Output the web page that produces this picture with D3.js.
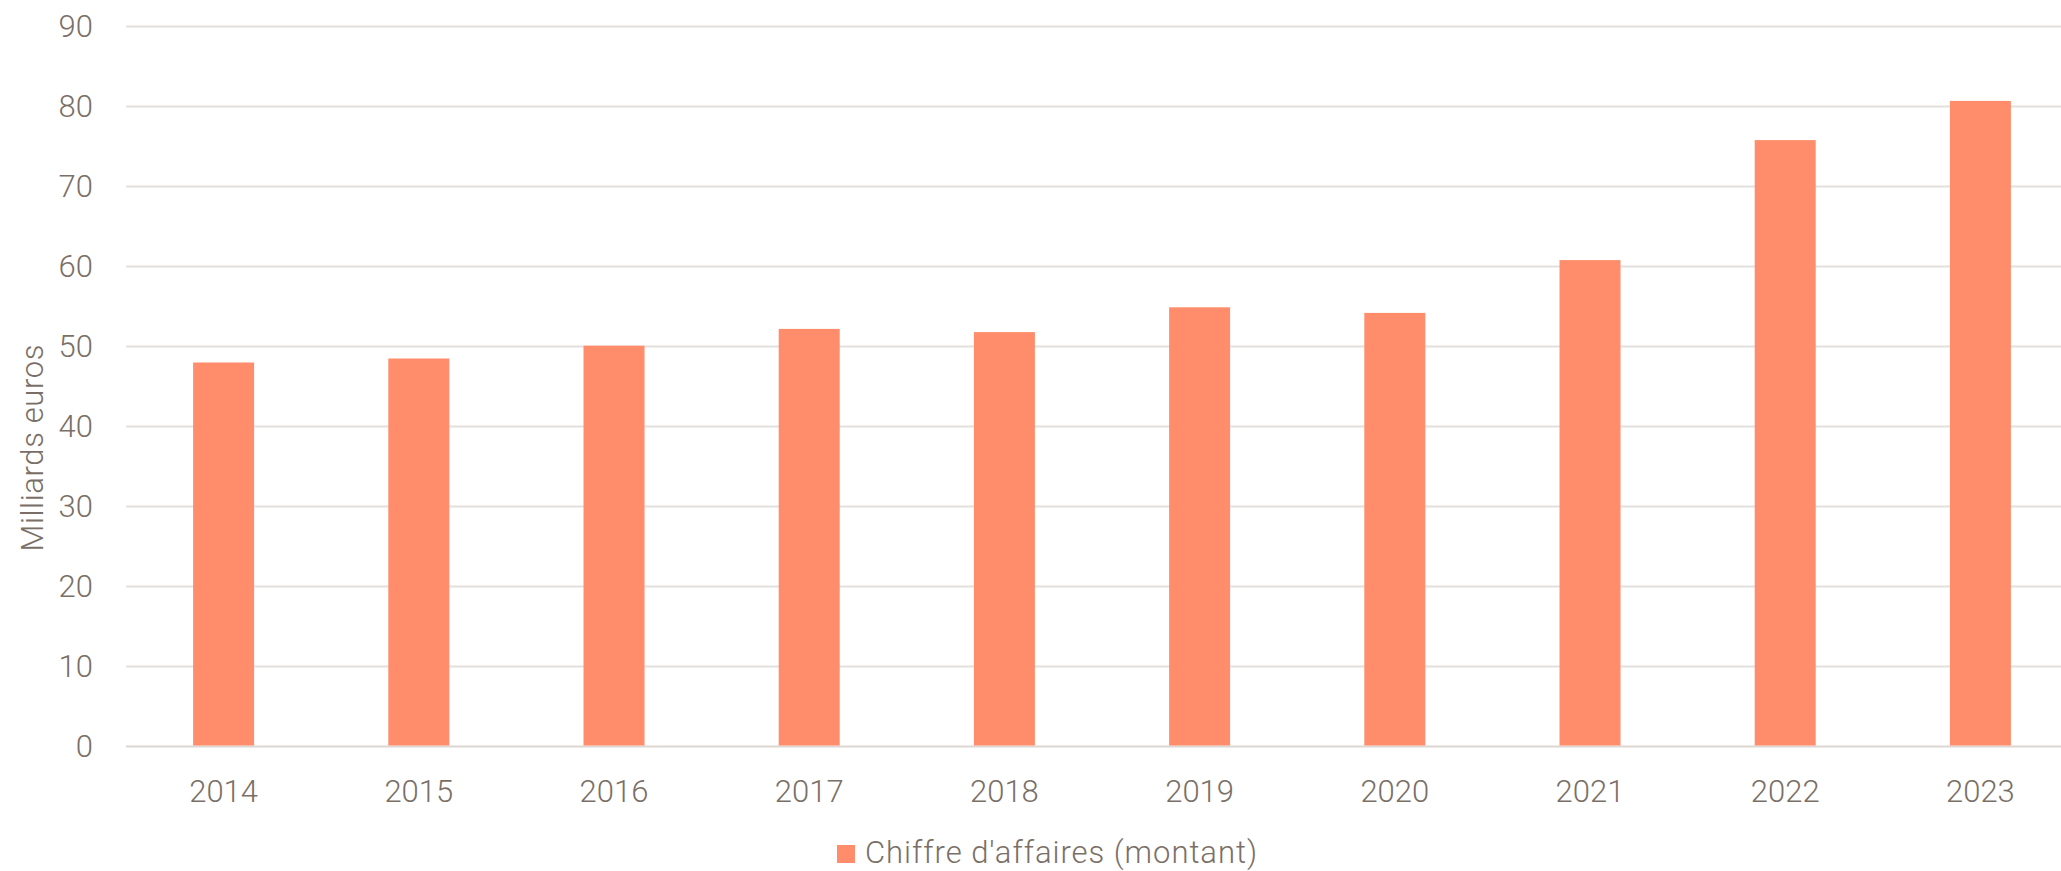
<!DOCTYPE html>
<html><head><meta charset="utf-8">
<script src="https://cdn.jsdelivr.net/npm/d3@7"></script>
<style>
html,body{margin:0;padding:0;background:#fff;}
svg{display:block;}
text{font-family:Roboto, "Open Sans", sans-serif;fill:#7a6f67;}
</style></head>
<body><svg id="c" width="2061" height="871"></svg>
<script>
const years = ["2014","2015","2016","2017","2018","2019","2020","2021","2022","2023"];
const chiffreAffaires = [48.0, 48.5, 50.1, 52.2, 51.8, 54.9, 54.2, 60.8, 75.8, 80.7];
const yTicks = [0,10,20,30,40,50,60,70,80,90];
const seriesName = "Chiffre d'affaires (montant)";
const yTitle = "Milliards euros";

const svg = d3.select("#c");
const mLeft = 126, mRight = 2078, mTop = 26.5, mBottom = 746.5;
const x = d3.scaleBand().domain(years).range([mLeft, mRight]).paddingInner(0.6875).paddingOuter(0.34375);
const y = d3.scaleLinear().domain([0, 90]).range([mBottom, mTop]);

// gridlines
svg.append("g").selectAll("line").data(yTicks).join("line")
  .attr("x1", mLeft).attr("x2", 2061)
  .attr("y1", d => y(d)).attr("y2", d => y(d))
  .attr("stroke", d => d === 0 ? "#ddd6d2" : "#e3e0de").attr("stroke-width", 2);

// y axis labels
const yAxis = d3.axisLeft(y).tickValues(yTicks).tickSize(0).tickPadding(0);
const gy = svg.append("g").attr("transform", "translate(93,0)").call(yAxis);
gy.select(".domain").remove();
gy.selectAll("text").attr("font-size", 31).attr("font-family", "Roboto").attr("fill", "#7a6f67").attr("font-weight", 300);

// bars
svg.append("g").selectAll("rect").data(chiffreAffaires).join("rect")
  .attr("x", (d,i) => x(years[i]))
  .attr("width", x.bandwidth())
  .attr("y", d => y(d))
  .attr("height", d => y(0) - y(d) - 1)
  .attr("fill", "#ff8d6b");

// x axis labels
const xAxis = d3.axisBottom(x).tickSize(0).tickPadding(0);
const gx = svg.append("g").attr("transform", "translate(0,780)").call(xAxis);
gx.select(".domain").remove();
gx.selectAll("text").attr("font-size", 31).attr("font-family", "Roboto").attr("fill", "#7a6f67").attr("font-weight", 300).attr("dy", "0.71em");

// y title
svg.append("text").attr("transform", "translate(43,448) rotate(-90)")
  .attr("text-anchor", "middle").attr("font-size", 31).attr("font-weight", 300)
  .attr("textLength", 207).attr("lengthAdjust", "spacing").text(yTitle);

// legend
const lg = svg.append("g");
lg.append("rect").attr("x", 837).attr("y", 845).attr("width", 18).attr("height", 18).attr("fill", "#ff8d6b");
lg.append("text").attr("x", 865).attr("y", 863).attr("font-size", 31).attr("font-weight", 300)
  .attr("textLength", 392).attr("lengthAdjust", "spacing").text(seriesName);
</script></body></html>
